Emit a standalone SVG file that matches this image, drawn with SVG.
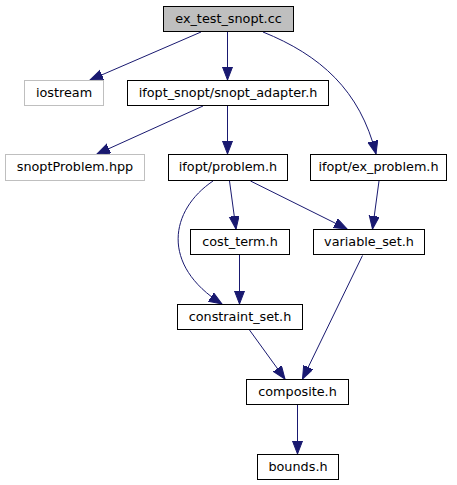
<svg xmlns="http://www.w3.org/2000/svg" width="457" height="485" viewBox="0 0 457 485">
<style>
.n rect{fill:#ffffff;stroke:#000000;stroke-width:1}
.g rect{fill:#ffffff;stroke:#bfbfbf;stroke-width:1}
.root rect{fill:#bfbfbf;stroke:#000000;stroke-width:1}
text{font-family:"DejaVu Sans",sans-serif;font-size:12.8px;fill:#000000;text-anchor:middle}
.e path{fill:none;stroke:#191970;stroke-width:1;marker-end:url(#ah)}
</style>
<defs>
<marker id="ah" markerUnits="userSpaceOnUse" markerWidth="14" markerHeight="12" refX="13" refY="5" orient="auto">
<path d="M0,0 L13,5 L0,10 z" fill="#191970" stroke="#191970" stroke-width="1"/>
</marker>
</defs>
<g id="edges" class="e">
<path d="M201,32 L90,80"/>
<path d="M227.5,32 L227.5,80"/>
<path d="M263,32 C320,55 360,90 376,154"/>
<path d="M203,106 L97,154"/>
<path d="M227.5,106 L227.5,154"/>
<path d="M229.5,181 L236,229"/>
<path d="M250.5,181 L347,229"/>
<path d="M213,181 C170,210 160,265 222,304"/>
<path d="M379,181 L372.5,229"/>
<path d="M239.5,255 L239.5,304"/>
<path d="M362.5,255.5 L302.5,379"/>
<path d="M249.5,330 L285,379"/>
<path d="M297.5,405 L297.5,454"/>
</g>
<g id="ex_test_snopt" class="root"><rect x="163.5" y="6.5" width="130" height="25"/><text x="228.5" y="23">ex_test_snopt.cc</text></g>
<g id="iostream" class="g"><rect x="24.5" y="80.5" width="79" height="25"/><text x="64" y="97">iostream</text></g>
<g id="snopt_adapter" class="n"><rect x="127.5" y="80.5" width="201" height="25"/><text x="228" y="97">ifopt_snopt/snopt_adapter.h</text></g>
<g id="snoptProblem" class="g"><rect x="5.5" y="154.5" width="139" height="26"/><text x="75" y="171">snoptProblem.hpp</text></g>
<g id="problem" class="n"><rect x="168.5" y="154.5" width="119" height="26"/><text x="228" y="171">ifopt/problem.h</text></g>
<g id="ex_problem" class="n"><rect x="310.5" y="154.5" width="136" height="26"/><text x="378.5" y="171">ifopt/ex_problem.h</text></g>
<g id="cost_term" class="n"><rect x="190.5" y="229.5" width="99" height="25"/><text x="240" y="246">cost_term.h</text></g>
<g id="variable_set" class="n"><rect x="313.5" y="229.5" width="111" height="25"/><text x="369" y="246">variable_set.h</text></g>
<g id="constraint_set" class="n"><rect x="177.5" y="304.5" width="125" height="25"/><text x="240" y="321">constraint_set.h</text></g>
<g id="composite" class="n"><rect x="246.5" y="379.5" width="102" height="25"/><text x="297.5" y="396">composite.h</text></g>
<g id="bounds" class="n"><rect x="257.5" y="454.5" width="81" height="25"/><text x="298" y="471">bounds.h</text></g>
</svg>
